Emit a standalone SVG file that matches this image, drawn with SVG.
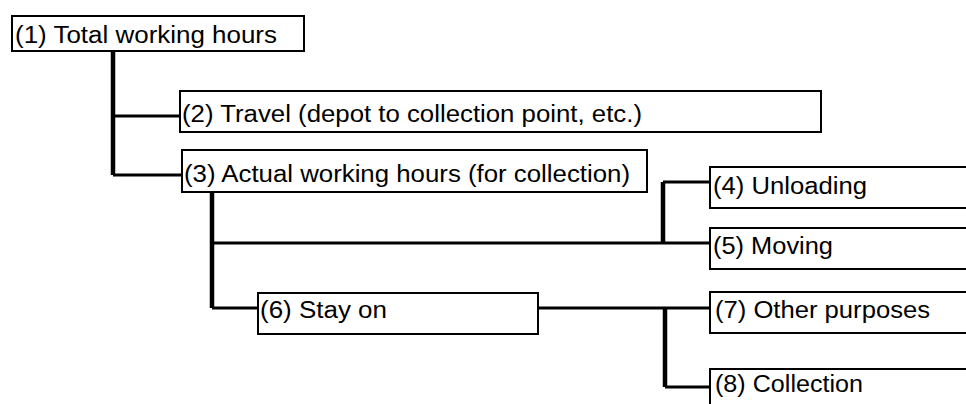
<svg xmlns="http://www.w3.org/2000/svg" width="966" height="404" viewBox="0 0 966 404">
<style>
.box{fill:#fff;stroke:#000;stroke-width:2}
.lbl{font-family:"Liberation Sans",Arial,sans-serif;font-size:23px;fill:#000}
.trunk{fill:none;stroke:#000;stroke-width:4.5}
.br{fill:none;stroke:#000;stroke-width:3}
</style>
<rect width="966" height="404" fill="#fff"/>
<g id="connectors">
<path class="trunk" d="M113 51V175"/>
<path class="br" d="M113 116H180M113 175H182"/>
<path class="trunk" d="M212 193V308"/>
<path class="br" d="M212 308H258M212 243H710"/>
<path class="trunk" d="M663 182V243"/>
<path class="br" d="M663 182H710"/>
<path class="br" d="M538 308H710"/>
<path class="trunk" d="M665 308V387"/>
<path class="br" d="M665 387H710"/>
</g>
<g id="n1"><rect class="box" x="12" y="16" width="292" height="35"/><text class="lbl" x="15" y="43" textLength="262" lengthAdjust="spacingAndGlyphs">(1) Total working hours</text></g>
<g id="n2"><rect class="box" x="180" y="91" width="641" height="41"/><text class="lbl" x="182" y="122" textLength="460" lengthAdjust="spacingAndGlyphs">(2) Travel (depot to collection point, etc.)</text></g>
<g id="n3"><rect class="box" x="182" y="150" width="465" height="42"/><text class="lbl" x="184" y="182" textLength="446" lengthAdjust="spacingAndGlyphs">(3) Actual working hours (for collection)</text></g>
<g id="n4"><rect class="box" x="710" y="167" width="270" height="41"/><text class="lbl" x="713" y="194" textLength="154" lengthAdjust="spacingAndGlyphs">(4) Unloading</text></g>
<g id="n5"><rect class="box" x="710" y="228" width="270" height="41"/><text class="lbl" x="713" y="254" textLength="120" lengthAdjust="spacingAndGlyphs">(5) Moving</text></g>
<g id="n6"><rect class="box" x="258" y="293" width="280" height="41"/><text class="lbl" x="260" y="318" textLength="127" lengthAdjust="spacingAndGlyphs">(6) Stay on</text></g>
<g id="n7"><rect class="box" x="710" y="292" width="270" height="41"/><text class="lbl" x="715" y="318" textLength="215" lengthAdjust="spacingAndGlyphs">(7) Other purposes</text></g>
<g id="n8"><rect class="box" x="710" y="369" width="270" height="50"/><text class="lbl" x="715" y="392" textLength="148" lengthAdjust="spacingAndGlyphs">(8) Collection</text></g>
</svg>
